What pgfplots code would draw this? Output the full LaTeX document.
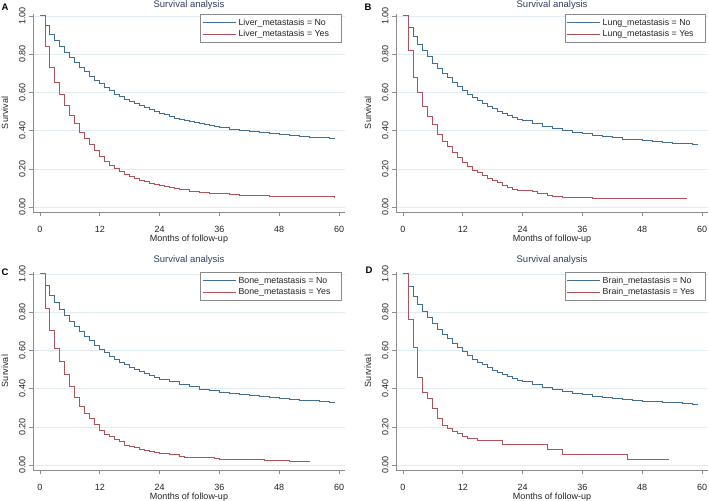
\documentclass[border=0pt]{standalone}
\usepackage{fontspec}
\setmainfont{Liberation Sans}
\usepackage{pgfplots}
\pgfplotsset{compat=1.18}
\usepackage{pgfplotstable}
\definecolor{kmblue}{HTML}{3F6D94}
\definecolor{kmred}{HTML}{B25159}
\definecolor{axgray}{HTML}{8C8C8C}
\definecolor{gridc}{HTML}{E2EBEF}
\definecolor{titlec}{HTML}{2E3D5C}
\definecolor{leggray}{HTML}{8A8A8A}
\definecolor{txt}{HTML}{222222}

\pgfplotstableread{
x y
0 1
1 0.948
2 0.905
3 0.871
4 0.838
5 0.808
6 0.781
7 0.755
8 0.730
9 0.707
10 0.685
11 0.664
12 0.644
13 0.626
14 0.608
15 0.591
16 0.577
17 0.564
18 0.552
19 0.540
20 0.529
21 0.519
22 0.509
23 0.499
24 0.490
25 0.482
26 0.474
27 0.466
28 0.459
29 0.452
30 0.446
31 0.440
32 0.435
33 0.430
34 0.425
35 0.420
36 0.416
38 0.408
40 0.401
42 0.395
44 0.389
46 0.384
48 0.378
50 0.374
52 0.370
54 0.366
56 0.363
58 0.359
59 0.358
}\ANo
\pgfplotstableread{
x y
0 1
1 0.839
2 0.729
3 0.653
4 0.589
5 0.533
6 0.481
7 0.437
8 0.388
9 0.357
10 0.325
11 0.294
12 0.266
13 0.236
14 0.216
15 0.201
16 0.186
17 0.172
18 0.161
19 0.150
20 0.140
21 0.132
22 0.125
23 0.118
24 0.113
25 0.107
26 0.101
27 0.096
28 0.091
30 0.084
32 0.078
34 0.073
36 0.069
38 0.066
40 0.063
42 0.061
44 0.059
46 0.057
48 0.054
59 0.053
}\AYes
\pgfplotstableread{
x y
0 1
1 0.937
2 0.892
3 0.853
4 0.817
5 0.786
6 0.753
7 0.727
8 0.700
9 0.676
10 0.652
11 0.630
12 0.609
13 0.590
14 0.572
15 0.556
16 0.541
17 0.527
18 0.514
19 0.502
20 0.490
21 0.479
22 0.469
23 0.460
24 0.452
26 0.437
28 0.423
30 0.411
32 0.400
34 0.391
36 0.383
38 0.375
40 0.368
42 0.362
44 0.356
46 0.351
48 0.347
50 0.343
52 0.339
54 0.335
56 0.331
58 0.328
59 0.326
}\BNo
\pgfplotstableread{
x y
0 1
1 0.818
2 0.678
3 0.600
4 0.524
5 0.472
6 0.432
7 0.379
8 0.345
9 0.315
10 0.285
11 0.262
12 0.235
13 0.212
14 0.192
15 0.180
16 0.163
17 0.150
18 0.138
19 0.128
20 0.115
21 0.102
22 0.092
23 0.088
25 0.087
26 0.080
27 0.072
29 0.062
30 0.056
32 0.052
35 0.049
38 0.045
57 0.045
}\BYes
\pgfplotstableread{
x y
0 1
1 0.940
2 0.887
3 0.851
4 0.816
5 0.785
6 0.752
7 0.725
8 0.700
9 0.675
10 0.651
11 0.628
12 0.607
13 0.587
14 0.569
15 0.553
16 0.538
17 0.524
18 0.511
19 0.499
20 0.488
21 0.477
22 0.467
23 0.458
24 0.450
26 0.435
28 0.421
30 0.409
32 0.398
34 0.389
36 0.381
38 0.374
40 0.367
42 0.362
44 0.357
46 0.352
48 0.348
50 0.344
52 0.340
54 0.336
56 0.333
58 0.329
59 0.327
}\CNo
\pgfplotstableread{
x y
0 1
1 0.821
2 0.702
3 0.610
4 0.542
5 0.472
6 0.412
7 0.353
8 0.304
9 0.268
10 0.246
11 0.210
12 0.179
13 0.162
14 0.148
15 0.135
16 0.121
17 0.105
18 0.097
19 0.090
20 0.083
21 0.077
22 0.071
23 0.065
24 0.060
26 0.054
28 0.047
29 0.042
32 0.038
35 0.032
36 0.028
45 0.024
50 0.019
54 0.016
}\CYes
\pgfplotstableread{
x y
0 1
1 0.935
2 0.882
3 0.842
4 0.802
5 0.772
6 0.742
7 0.711
8 0.684
9 0.660
10 0.636
11 0.614
12 0.593
13 0.572
14 0.554
15 0.538
16 0.524
17 0.510
18 0.497
19 0.485
20 0.473
21 0.462
22 0.452
23 0.443
24 0.435
26 0.420
28 0.406
30 0.394
32 0.384
34 0.375
36 0.367
38 0.360
40 0.354
42 0.348
44 0.343
46 0.339
48 0.335
50 0.331
52 0.328
54 0.325
56 0.321
58 0.318
59 0.316
}\DNo
\pgfplotstableread{
x y
0 1
1 0.761
2 0.614
3 0.458
4 0.382
5 0.347
6 0.295
7 0.243
8 0.205
9 0.193
10 0.175
11 0.163
12 0.152
13 0.140
15 0.128
20 0.110
29 0.082
32 0.055
45 0.027
53.3 0.027
}\DYes

\newcommand{\kmlf}{\fontsize{9bp}{10bp}\selectfont}
\pgfplotsset{
  km/.style={
    scale only axis, width=312bp, height=198bp,
    anchor=south west,
    xmin=-1.4, xmax=61.2, ymin=-0.026, ymax=1.01,
    axis lines*=left,
    axis line style={draw=axgray, line width=0.6bp},
    xtick={0,12,24,36,48,60}, ytick={0,0.2,0.4,0.6,0.8,1},
    tick align=outside, major tick length=4bp,
    tick style={draw=axgray, line width=0.6bp},
    ymajorgrids, grid style={draw=gridc, line width=0.6bp},
    /pgf/number format/assume math mode=true,
    ticklabel style={font=\kmlf, text=txt},
    xticklabel style={yshift=-7bp},
    yticklabel style={rotate=90, anchor=south, /pgf/number format/fixed,
      /pgf/number format/fixed zerofill, /pgf/number format/precision=2},
    xlabel={Months of follow-up}, ylabel={Survival},
    xlabel style={font=\kmlf, text=txt, at={(axis description cs:0.5,-0.139)}, anchor=center},
    ylabel style={font=\kmlf, text=txt, at={(axis description cs:-0.09,0.5)}, anchor=center, rotate=0},
    title={Survival analysis},
    every axis title/.style={font=\fontsize{9.5bp}{11bp}\selectfont, text=titlec, at={(axis description cs:0.5,1)}, anchor=base, yshift=6.6bp},
    legend style={at={(0.99,1)}, anchor=north east, draw=leggray, line width=0.6bp,
      font=\fontsize{8.8bp}{10bp}\selectfont, inner xsep=2bp, inner ysep=2.5bp,
      row sep=-0.5bp, text=txt},
    legend cell align=left,
    legend image code/.code={\draw[#1] (0bp,0bp) -- (33bp,0bp);},
    clip=false,
  },
  no/.style={const plot, no marks, draw=kmblue, line width=0.9bp},
  yes/.style={const plot, no marks, draw=kmred, line width=0.9bp},
}
\newcommand{\legtxt}[1]{\makebox[99bp][l]{#1}}

\begin{document}
\begin{tikzpicture}
\path[use as bounding box] (0,0) rectangle (709bp,501bp);

\begin{axis}[km, at={(33bp,289bp)}]
\addplot[no] table[x=x,y=y] {\ANo};
\addplot[yes] table[x=x,y=y] {\AYes};
\legend{\legtxt{Liver\_metastasis = No},\legtxt{Liver\_metastasis = Yes}}
\end{axis}

\begin{axis}[km, at={(396bp,289bp)}, legend style={at={(0.9936,1)}}]
\addplot[no] table[x=x,y=y] {\BNo};
\addplot[yes] table[x=x,y=y] {\BYes};
\legend{\legtxt{Lung\_metastasis = No},\legtxt{Lung\_metastasis = Yes}}
\end{axis}

\begin{axis}[km, at={(33bp,31bp)}, every axis title/.append style={yshift=2.4bp}]
\addplot[no] table[x=x,y=y] {\CNo};
\addplot[yes] table[x=x,y=y] {\CYes};
\legend{\legtxt{Bone\_metastasis = No},\legtxt{Bone\_metastasis = Yes}}
\end{axis}

\begin{axis}[km, at={(396bp,31bp)}, every axis title/.append style={yshift=2.4bp}, legend style={at={(0.9936,1)}}]
\addplot[no] table[x=x,y=y] {\DNo};
\addplot[yes] table[x=x,y=y] {\DYes};
\legend{\legtxt{Brain\_metastasis = No},\legtxt{Brain\_metastasis = Yes}}
\end{axis}

\node[font=\fontsize{9.5bp}{11bp}\selectfont\bfseries] at (5bp,494bp) {A};
\node[font=\fontsize{9.5bp}{11bp}\selectfont\bfseries] at (368bp,494bp) {B};
\node[font=\fontsize{9.5bp}{11bp}\selectfont\bfseries] at (5bp,229bp) {C};
\node[font=\fontsize{9.5bp}{11bp}\selectfont\bfseries] at (369bp,231bp) {D};
\end{tikzpicture}
\end{document}
